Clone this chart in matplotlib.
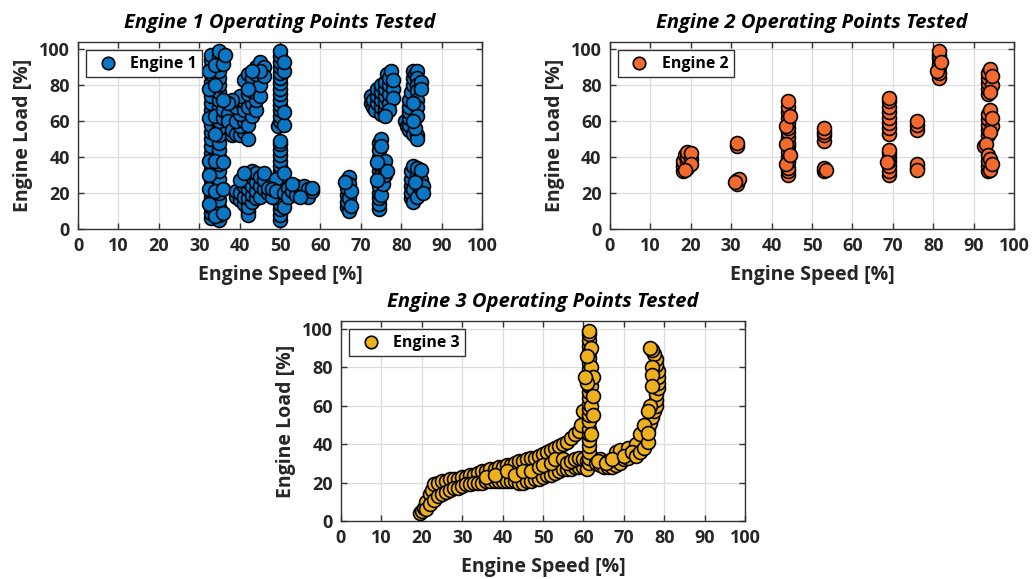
import numpy as np
import matplotlib
matplotlib.use('Agg')
import matplotlib.pyplot as plt

# operating points: (speed %, load %)
engine1_points = [
    # column ~33-37
    (33,6),(33,9),(33,12),(33,15),(33,18),(33,21),(33,24),(33,27),(33,30),(33,33),(33,36),(33,39),
    (33,42),(33,46),(33,50),(33,54),(33,58),(33,62),(33,66),(33,70),(33,74),(33,78),(33,82),(33,86),
    (33,90),(33,94),(33,97),
    (35,5),(35,8),(35,12),(35,16),(35,20),(35,24),(35,28),(35,32),(35,36),(35,40),(35,44),(35,48),
    (35,52),(35,56),(35,60),(35,64),(35,68),(35,72),(35,76),(35,80),(35,84),(35,88),(35,92),(35,96),(35,99),
    (32.5,38),(32.5,30),(32.5,22),(32.5,14),(32.5,62),(32.5,78),(32.5,88),
    (34,7),(34,21),(34,38),(34,53),(34,63),(34,80),(34,91),
    (36,9),(36,22),(36,37),(36,62),(36,66),(36,92),(36.5,97),(37,64),(37,60),(38,52),(38,55),
    # cluster 38-46 high
    (39,53),(40,52),(41,54),(42,50),(40,57),(39,60),(41,60),(42,58),(40,64),(39,68),(41,66),(43,63),
    (39,72),(41,71),(42,68),(43,70),(40,74),(42,75),(44,66),(44,72),(43,77),(42,80),(41,83),(42,86),
    (43,84),(44,78),(45,74),(45,80),(44,86),(44,90),(45,93),(46,90),(46,85),(45,88),(43,88),(42,78),
    (38,72),(37,70),(36,72),
    # cluster 39-46 low
    (39,18),(39,21),(40,16),(40,20),(41,14),(41,18),(41,24),(41,28),(42,10),(42,8),(42,12),(42,17),
    (42,22),(42,26),(42,30),(43,15),(43,19),(43,24),(43,29),(43,32),(44,17),(44,21),(44,26),(44,31),
    (45,18),(45,24),(45,29),(46,22),(46,27),(46,31),(40,27),(41,31),
    # column ~50
    (50,5),(50,8),(50,11),(50,14),(50,17),(50,20),(50,23),(50,26),(50,29),(50,32),(50,35),(50,38),
    (50,41),(50,44),(50,47),(50,49),(49.5,57),(50,60),(50,63),(50,66),(50,69),(50,72),(50,75),(50,78),
    (50,81),(50,84),(50,87),(50,90),(50,93),(50,96),(50,99),(51,58),(51,65),(51,88),(51,93),(49,18),
    (49,28),(51,31),(51,12),
    # band 47-58
    (47,20),(47,23),(48,18),(48,22),(49,21),(51,20),(52,23),(52,18),(53,21),(54,24),(54,19),(55,22),
    (56,20),(56,24),(57,22),(57,18),(58,21),(55,18),(53,25),(58,23),
    # ~67
    (66.5,12),(66.5,15),(66.5,19),(66.5,23),(66.5,27),(67,29),(67,10),(67,17),(67,25),(67.5,21),
    (67.5,13),(66,26),
    # ~75 low
    (74.5,11),(74.5,14),(74.5,17),(74.5,20),(74.5,24),(74.5,28),(74.5,32),(74.5,36),(74.5,40),
    (74.5,44),(74.5,48),(75,50),(75,46),(75,30),(75,19),(75.5,25),(75.5,35),(76,30),(76,38),(76.5,32),
    (74,27),(74,37),
    # 72-79 high
    (72.5,70),(72.5,74),(73,68),(73,72),(73.5,66),(74,70),(74,74),(74,78),(75,64),(75,68),(75,72),
    (75,76),(75,80),(76,66),(76,70),(76,74),(76,78),(76,82),(76.5,86),(77,70),(77,75),(77,80),(77,84),
    (77.5,88),(78,78),(78,83),(78,73),(77,66),(76,63),
    # 81-85 high
    (81,60),(81.5,57),(82,55),(82,58),(82,62),(82,65),(82,68),(82,72),(82.5,76),(83,80),(83,84),
    (83,88),(83.5,86),(84,88),(84,84),(84,80),(84,77),(84,72),(84,68),(84,63),(83,53),(84,52),(84,50),
    (83.5,56),(85,82),(85,78),(83,70),(83,60),
    # 82-86 low
    (82.5,17),(82.5,20),(82.5,24),(82.5,28),(82.5,32),(83,15),(83,22),(83,35),(84,18),(84,25),
    (84,30),(84,34),(85,22),(85,27),(85,33),(85.5,24),(85.5,20),(83.5,26),
]

engine2_points = [
    (18,32),(18,35),(18,38),(18.5,41),(19,34),(19,37),(19,40),(19,43),(20,39),(20,42),(20,36),(18.5,33),
    (31.5,46),(31.5,48),(31.5,25),(31.5,27),(32,28),(31,26),
    (44,30),(44,32),(44,34),(44,37),(44,40),(44,43),(44,46),(44,48),(44,51),(44,54),(44,56),(44,59),
    (44,62),(44,65),(44,68),(44,71),(43.5,36),(43.5,47),(43.5,57),(44.5,41),(44.5,63),
    (53,49),(53,52),(53,54),(53,56),(53,32),(53,34),(53.5,33),
    (69,53),(69,56),(69,59),(69,62),(69,65),(69,68),(69,71),(69,73),(69,30),(69,32),(69,35),(69,38),
    (69,40),(69,42),(69,44),(68.5,37),
    (76,55),(76,58),(76,60),(76,34),(76,36),(76,33),
    (81.5,84),(81.5,87),(81.5,90),(81.5,92),(81.5,95),(81.5,97),(81.5,99),(81,88),(82,93),
    (93.5,75),(93.5,78),(93.5,81),(93.5,84),(93.5,87),(94,89),(94.5,80),(94.5,85),(94,76),
    (93.5,52),(93.5,55),(93.5,58),(93.5,61),(93.5,64),(94,66),(94.5,57),(94.5,62),(94,54),
    (92.5,46),(93,47),
    (93.5,32),(93.5,35),(93.5,38),(93.5,41),(94,33),(94,39),(94.5,36),
]

engine3_points = [
    # upper branch
    (19.5,4),(20,5),(20.5,7),(21,10),(22,14),(22.5,16),(23,19),(24,20),(25,21),(26,21),(27,22),(28,22),
    (29,22),(30,23),(31,23),(32,24),(33,24),(34,25),(35,26),(36,26),(37,27),(38,27),(39,28),(40,28),
    (41,29),(42,29),(43,30),(44,31),(45,31),(46,32),(47,33),(48,33),(49,34),(50,35),(51,36),(52,37),
    (53,38),(54,39),(55,40),(56,41),(57,43),(58,45),(59,47),(59.5,50),(60,57),
    # lower branch
    (21,6),(22,9),(23,11),(24,13),(25,14),(26,15),(27,16),(28,17),(29,17),(30,18),(31,19),(32,19),
    (33,20),(34,20),(35,20),(36,21),(37,21),(38,21),(39,21),(40,21),(41,21),(42,21),(43,21),(44,20),
    (45,20),(46,21),(47,21),(48,22),(49,22),(50,23),(51,24),(52,24),(53,25),(54,26),(55,27),(56,27),
    (57,27),(58,28),(59,28),(60,28),
    # middle band
    (36,23),(38,24),(41,26),(43,24),(45,26),(47,26),(49,28),(50,29),(52,30),(53,32),(55,32),(56,30),
    (57,31),(58,32),(59,33),(60,32),(61,31),
    # vertical ~61.5
    (61,27),(61.5,30),(61.5,33),(61.5,36),(61.5,39),(61.5,42),(61.5,45),(61.5,48),(61.5,52),(61.5,55),
    (61.5,58),(61.5,61),(61.5,64),(61.5,67),(61.5,70),(61.5,73),(61.5,76),(61.5,79),(61.5,82),(61.5,85),
    (61.5,88),(61.5,91),(61.5,94),(61.5,97),(61.5,99),(62,90),(62,80),(62,70),(62,60),(62.5,65),
    (62.5,55),(62.5,75),(62,45),(61,72),(60.5,75),(61,86),
    # right hook
    (63,30),(64,29),(65,28),(66,28),(67,28),(68,29),(69,30),(70,32),(71,33),(72,35),(73,37),(74,39),
    (75,42),(75.5,45),(76,48),(76.5,51),(77,54),(77.5,57),(78,60),(78,63),(78,66),(78.5,69),(78.5,72),
    (78.5,75),(78.5,78),(78,81),(78,84),(77.5,87),(77,89),(76.5,90),(77,80),(77,76),(76.5,60),(76,57),
    (77,70),(64,32),(66,31),(68,36),(69,37),(71,38),(73,40),(74,45),(75,50),(63.5,31),(65.5,30),
    (67,32),(70,34),(72,36),(73,34),(74,36),(75,38),(76,41),(76,46),
]

engine_names = ['Engine 1', 'Engine 2', 'Engine 3']
engine_colors = ['#0A76C4', '#F26A2E', '#EDB120']

plt.rcParams['font.family'] = ['Open Sans', 'DejaVu Sans']
plt.rcParams['font.weight'] = 'bold'

fig = plt.figure(figsize=(10.32, 5.79), dpi=100)
positions = [[0.0756, 0.6045, 0.3915, 0.323],
             [0.591, 0.6045, 0.3915, 0.323],
             [0.3304, 0.1002, 0.3915, 0.3454]]
all_points = [engine1_points, engine2_points, engine3_points]

for pos, pts, name, col in zip(positions, all_points, engine_names, engine_colors):
    ax = fig.add_axes(pos)
    pts = np.array(pts)
    ax.scatter(pts[:, 0], pts[:, 1], s=100, c=col, edgecolors='black', linewidths=1.2,
               label=name, zorder=3)
    ax.set_xlim(0, 100)
    ax.set_ylim(0, 104)
    ax.set_xticks(np.arange(0, 101, 10))
    ax.set_yticks(np.arange(0, 101, 20))
    ax.grid(True, color='#dcdcdc', linewidth=0.9, zorder=0)
    ax.tick_params(direction='in', top=True, right=True, labelsize=13, length=4,
                   color='#333333', width=1, pad=6)
    for lab in ax.get_xticklabels() + ax.get_yticklabels():
        lab.set_fontweight('bold')
        lab.set_color('#262626')
    for sp in ax.spines.values():
        sp.set_color('#333333')
        sp.set_linewidth(1.0)
    ax.set_xlabel('Engine Speed [%]', fontsize=14, fontweight='bold', color='#262626', labelpad=7)
    ax.set_ylabel('Engine Load [%]', fontsize=14, fontweight='bold', color='#262626', labelpad=4)
    ax.set_title(name + ' Operating Points Tested', fontsize=14.5, fontweight='bold',
                 style='italic', color='black', pad=10)
    leg = ax.legend(loc='upper left', fontsize=11.5, fancybox=False, framealpha=1,
                    edgecolor='#333333', handletextpad=0.4, borderpad=0.35,
                    borderaxespad=0.5, markerscale=0.9)
    leg.get_frame().set_linewidth(1.0)
    for t in leg.get_texts():
        t.set_fontweight('bold')

fig.savefig('out.png', dpi=100)
